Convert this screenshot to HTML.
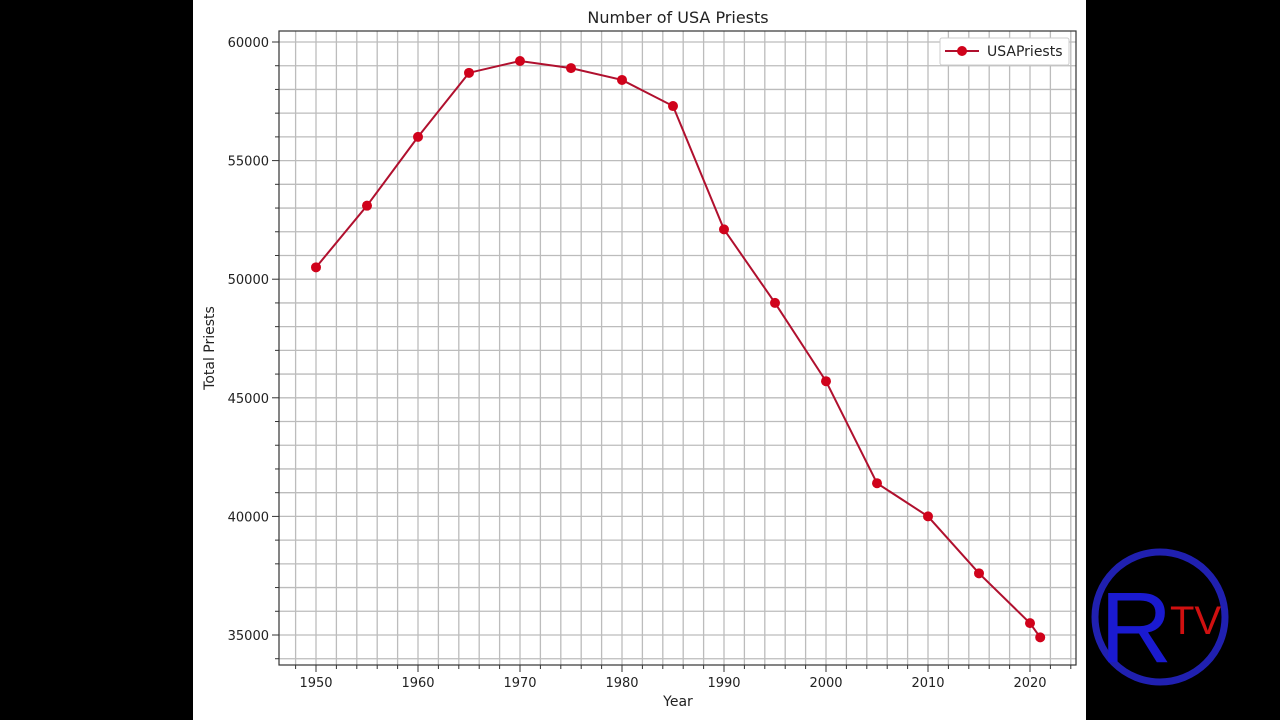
<!DOCTYPE html>
<html><head><meta charset="utf-8"><style>
html,body{margin:0;padding:0;background:#000;width:1280px;height:720px;overflow:hidden}
svg{display:block;font-family:"DejaVu Sans","Liberation Sans",sans-serif}
</style></head><body>
<svg id="s" width="1280" height="720" xmlns="http://www.w3.org/2000/svg">
<rect x="0" y="0" width="1280" height="720" fill="#000"/>
<rect x="193" y="0" width="893" height="720" fill="#fff"/>
<g id="grid"></g>
<rect x="279" y="31" width="797" height="634" fill="none" stroke="#333" stroke-width="1.2"/>
<g id="ticks"></g>
<text x="678" y="23" font-size="16" text-anchor="middle" fill="#222">Number of USA Priests</text>
<text x="678" y="706" font-size="14" text-anchor="middle" fill="#222">Year</text>
<text transform="translate(214,348) rotate(-90)" font-size="14" text-anchor="middle" fill="#222">Total Priests</text>
<polyline id="line" fill="none" stroke="#b0102e" stroke-width="2"/>
<g id="pts"></g>
<rect x="940" y="38" width="129" height="27" fill="#fff" stroke="#ccc" stroke-width="1" rx="2"/>
<line x1="945" y1="51" x2="979" y2="51" stroke="#b0102e" stroke-width="2"/>
<circle cx="962" cy="51" r="5" fill="#d0021b"/>
<text x="987" y="56" font-size="14" fill="#222">USAPriests</text>
<circle cx="1160" cy="617" r="65" fill="none" stroke="#2020b0" stroke-width="7"/>
<text x="1100" y="662" font-size="100" fill="#1a1ad0" font-family="Liberation Sans,sans-serif">R</text>
<text x="1170" y="634" font-size="40" fill="#d01010" font-family="Liberation Sans,sans-serif">TV</text>
</svg>
<script>
const NS="http://www.w3.org/2000/svg";
const X=t=>316+(t-1950)*10.2, Y=v=>42+(60000-v)*0.02372;
function el(p,t,a,txt){const e=document.createElementNS(NS,t);for(const k in a)e.setAttribute(k,a[k]);if(txt)e.textContent=txt;document.getElementById(p).appendChild(e);}
for(let t=1948;t<=2024;t+=2){const x=X(t);el('grid','line',{x1:x,x2:x,y1:31,y2:665,stroke:'#bcbcbc','stroke-width':1.3});
 el('ticks','line',{x1:x,x2:x,y1:665,y2:t%10==0?672:669,stroke:'#333'});
 if(t%10==0)el('ticks','text',{x:x,y:687,'font-size':13,'text-anchor':'middle',fill:'#222'},String(t));}
for(let v=34000;v<=60000;v+=1000){const yy=Y(v);el('grid','line',{x1:279,x2:1076,y1:yy,y2:yy,stroke:'#bcbcbc','stroke-width':1.3});
 el('ticks','line',{x1:v%5000==0?272:275,x2:279,y1:yy,y2:yy,stroke:'#333'});
 if(v%5000==0)el('ticks','text',{x:269,y:yy+5,'font-size':13,'text-anchor':'end',fill:'#222'},String(v));}
const d=[[1950,50500],[1955,53100],[1960,56000],[1965,58700],[1970,59200],[1975,58900],[1980,58400],[1985,57300],[1990,52100],[1995,49000],[2000,45700],[2005,41400],[2010,40000],[2015,37600],[2020,35500],[2021,34900]];
document.getElementById('line').setAttribute('points',d.map(p=>X(p[0])+','+Y(p[1])).join(' '));
d.forEach(p=>el('pts','circle',{cx:X(p[0]),cy:Y(p[1]),r:5,fill:'#d0021b'}));
</script>
</body></html>
